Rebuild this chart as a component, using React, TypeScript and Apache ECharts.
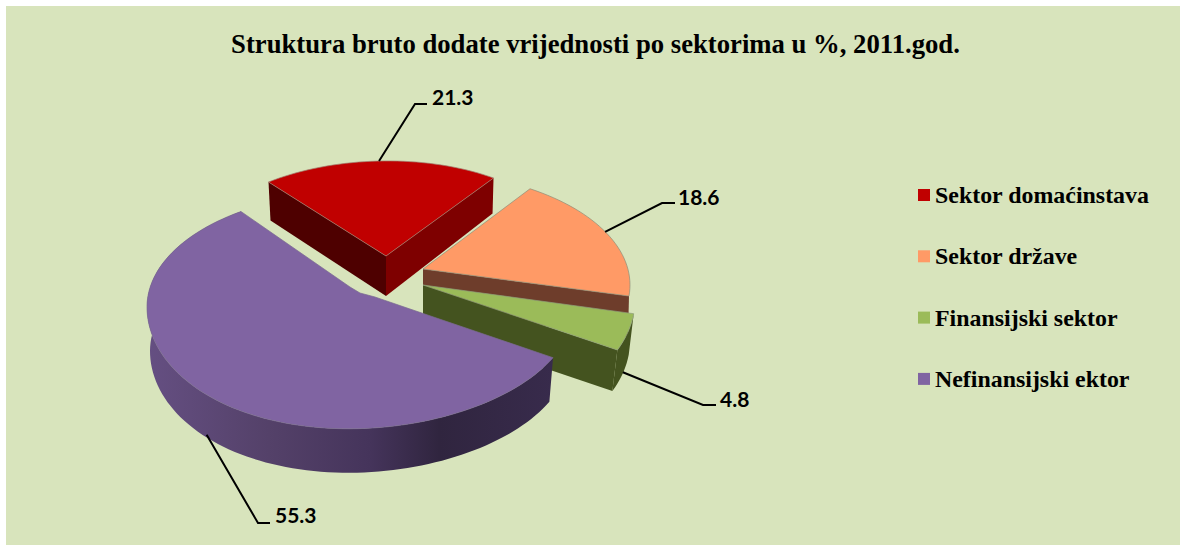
import React, { useEffect, useRef } from "react";
import * as echarts from "echarts";

const titleText = "Struktura bruto dodate vrijednosti po sektorima u %, 2011.god.";
const sectors = ["Sektor domaćinstava", "Sektor države", "Finansijski sektor", "Nefinansijski ektor"];
const shares = [21.3, 18.6, 4.8, 55.3];
const topColors = ["#C00000", "#FF9A66", "#9BBB59", "#8064A2"];

const purpleWall = new echarts.graphic.LinearGradient(0, 0, 1, 0, [
  { offset: 0, color: "#654F82" },
  { offset: 0.3, color: "#544169" },
  { offset: 0.55, color: "#45345B" },
  { offset: 0.72, color: "#30253F" },
  { offset: 1, color: "#382B4C" },
]);

// Look of each slice: the reference is a tilted 3D pie, so every exploded slice has its own ellipse.
const looks: any[] = [
  {
    cx: 381, cy: 259, rx: 190, ry: 98, skew: -3.4, lowA: 0, lowB: 0, start: -36.3, scale: 0.947,
    tip: [[386, 256]], tipDrop: [[386, 296]], dxA: 0.5, dxB: -2.5, dyA: 37, dyB: -2.5,
    startFace: "#4E0000", endFace: "#7E0000", outer: null, stroke: "#A08070",
    leaderOffset: [-2, 0], elbow: [415, 104], leaderEnd: [427, 104], textAt: [432, 96],
  },
  {
    cx: 420, cy: 285, rx: 210, ry: 113, skew: 0, lowA: 0, lowB: 0, start: 31.6, scale: 0.956,
    tip: [[423, 269]], tipDrop: [[423, 310]], dxA: -1, dxB: 0, dyA: 41, dyB: 0,
    startFace: null, endFace: "#6E3D2B", outer: null, stroke: "#8E8E78",
    leaderOffset: [-3, -3], elbow: [662, 203], leaderEnd: [675, 203], textAt: [678, 196],
  },
  {
    cx: 424, cy: 300, rx: 211, ry: 125, skew: 0, lowA: 0, lowB: 0, start: 96.3, scale: 1,
    tip: [[423, 285]], tipDrop: [[423, 327]], dxA: -5, dxB: 0, dyA: 41, dyB: 0,
    startFace: null, endFace: "#44531F", outer: "#44531F", stroke: "#8E9E78",
    leaderOffset: [-5, 40], elbow: [703, 405], leaderEnd: [716, 405], textAt: [720, 398.5],
  },
  {
    cx: 360, cy: 308.6, rx: 213, ry: 116, skew: 1.6, lowA: 4, lowB: -8, start: 115, scale: 1.06,
    tip: [[350, 287], [360, 293], [375, 297], [410, 309]], tipDrop: [[360, 337]],
    dxA: -0.5, dxB: -3.5, dyA: 44, dyB: 0,
    startFace: null, endFace: null, outer: purpleWall, stroke: "#7A6A90",
    leaderOffset: [-15, 32], elbow: [258, 523], leaderEnd: [270, 523], textAt: [275, 514],
  },
];

const rad = (d: number) => (d * Math.PI) / 180;

function rimPoint(l: any, deg: number) {
  const s = Math.sin(rad(deg));
  const c = Math.cos(rad(deg));
  const ry = l.ry + (c < 0 ? l.lowA + l.lowB * s : 0);
  return [l.cx + l.rx * s, l.cy - ry * c + l.skew * s];
}

function dropPoint(l: any, deg: number) {
  const p = rimPoint(l, deg);
  const s = Math.sin(rad(deg));
  return [p[0] + l.dxA + l.dxB * s, p[1] + l.dyA + l.dyB * s];
}

function sweepPoints(l: any, from: number, sweep: number, fn: (l: any, d: number) => number[]) {
  const pts: number[][] = [];
  const steps = Math.max(8, Math.ceil(sweep / 2));
  for (let i = 0; i <= steps; i++) pts.push(fn(l, from + (sweep * i) / steps));
  return pts;
}

function sliceChildren(index: number) {
  const l = looks[index];
  const sweep = shares[index] * 3.6 * l.scale;
  const end = l.start + sweep;
  const top = sweepPoints(l, l.start, sweep, rimPoint);
  const low = sweepPoints(l, l.start, sweep, dropPoint);
  const kids: any[] = [];
  const poly = (points: number[][], fill: any, extra: any = {}) => ({
    type: "polygon",
    shape: { points },
    style: { fill, ...extra },
    silent: true,
  });
  if (l.outer) kids.push(poly([...top, ...low.slice().reverse()], l.outer));
  if (l.startFace) kids.push(poly([rimPoint(l, l.start), l.tip[0], l.tipDrop[0], dropPoint(l, l.start)], l.startFace));
  if (l.endFace) kids.push(poly([l.tip[0], rimPoint(l, end), dropPoint(l, end), l.tipDrop[0]], l.endFace));
  kids.push(poly([...top, ...l.tip], topColors[index], { stroke: l.stroke, lineWidth: 0.7 }));

  const mid = rimPoint(l, l.start + sweep / 2);
  kids.push({
    type: "polyline",
    shape: { points: [[mid[0] + l.leaderOffset[0], mid[1] + l.leaderOffset[1]], l.elbow, l.leaderEnd] },
    style: { stroke: "#000000", lineWidth: 2, fill: "none" },
    silent: true,
  });
  kids.push({
    type: "text",
    x: l.textAt[0],
    y: l.textAt[1],
    style: {
      text: shares[index].toFixed(1),
      fill: "#000000",
      font: "bold 21px Lato",
      textAlign: "left",
      textVerticalAlign: "middle",
    },
    silent: true,
  });
  return kids;
}

export default function App() {
  const ref = useRef<HTMLDivElement>(null);
  useEffect(() => {
    document.body.style.margin = "0";
    document.body.style.overflow = "hidden";
    document.body.style.background = "#ffffff";
    const chart = echarts.init(ref.current!, null, { renderer: "svg" });
    chart.setOption({
      animation: false,
      color: topColors,
      graphic: [
        {
          type: "rect",
          z: -1,
          silent: true,
          shape: { x: 6, y: 6, width: 1174, height: 539 },
          style: { fill: "#D8E4BC" },
        },
      ],
      title: {
        text: titleText,
        left: 590.5,
        top: 25,
        textAlign: "center",
        textStyle: { fontFamily: "Liberation Serif", fontWeight: "bold", fontSize: 26.7, color: "#000000" },
      },
      legend: {
        orient: "vertical",
        left: 913,
        top: 177,
        itemWidth: 12,
        itemHeight: 12,
        itemGap: 35.3,
        icon: "rect",
        data: sectors,
        selectedMode: false,
        textStyle: {
          fontFamily: "Liberation Serif",
          fontWeight: "bold",
          fontSize: 23.9,
          color: "#000000",
          lineHeight: 26,
          padding: 0,
        },
      },
      series: sectors.map((name, i) => ({
        type: "custom",
        name,
        coordinateSystem: "none",
        silent: true,
        clip: false,
        itemStyle: { color: topColors[i] },
        data: [shares[i]],
        renderItem: () => ({ type: "group", children: sliceChildren(i) }),
      })),
    });
    return () => chart.dispose();
  }, []);
  return <div ref={ref} style={{ width: 1180, height: 545 }} />;
}
